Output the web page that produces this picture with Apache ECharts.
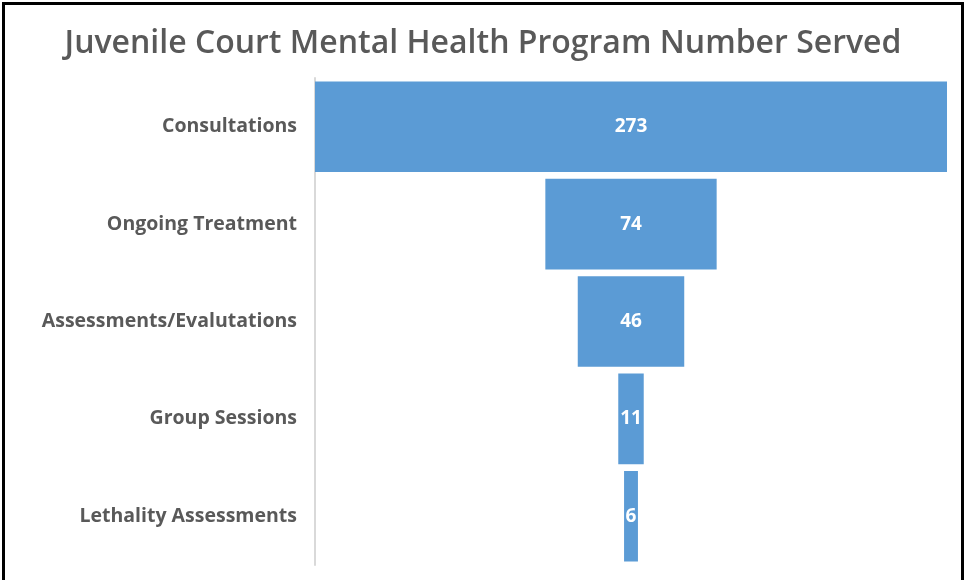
<!DOCTYPE html>
<html>
<head>
<meta charset="utf-8">
<script src="https://cdn.jsdelivr.net/npm/echarts@6/dist/echarts.min.js"></script>
<style>
  html, body { margin: 0; padding: 0; background: #fff; }
  #box { width: 966px; height: 580px; }
</style>
</head>
<body>
<div id="box"></div>
<script>
var categories = ["Consultations", "Ongoing Treatment", "Assessments/Evalutations", "Group Sessions", "Lethality Assessments"];
var served = [273, 74, 46, 11, 6];

var maxVal = Math.max.apply(null, served);
// invisible spacer so each bar sits centred, funnel style
var spacer = served.map(function (v) { return (maxVal - v) / 2; });

var chart = echarts.init(document.getElementById("box"));

var option = {
  backgroundColor: "#fff",
  animation: false,
  title: {
    text: "Juvenile Court Mental Health Program Number Served",
    left: "center",
    top: 23,
    textStyle: {
      fontFamily: "Open Sans",
      fontSize: 32,
      fontWeight: 600,
      color: "#595959"
    }
  },
  graphic: [{
    type: "rect",
    shape: { x: 3.5, y: 3.5, width: 959, height: 620 },
    style: { fill: "none", stroke: "#000", lineWidth: 3 }
  }],
  grid: { left: 315, right: 19, top: 78, bottom: 15 },
  xAxis: {
    type: "value",
    min: 0,
    max: maxVal,
    show: false
  },
  yAxis: {
    type: "category",
    inverse: true,
    data: categories,
    axisTick: { show: false },
    axisLine: { show: true, lineStyle: { color: "#d9d9d9", width: 2 } },
    axisLabel: {
      margin: 18,
      fontFamily: "Open Sans",
      fontSize: 19.5,
      fontWeight: "bold",
      color: "#595959"
    }
  },
  series: [
    {
      type: "bar",
      stack: "funnel",
      data: spacer,
      itemStyle: { color: "transparent" },
      barCategoryGap: "7%",
      silent: true
    },
    {
      name: "Number Served",
      type: "bar",
      stack: "funnel",
      data: served,
      barCategoryGap: "7%",
      itemStyle: { color: "#5b9bd5" },
      label: {
        show: true,
        position: "inside",
        fontFamily: "Open Sans",
        fontSize: 19,
        fontWeight: "bold",
        color: "#fff"
      }
    }
  ]
};

chart.setOption(option);
</script>
</body>
</html>
